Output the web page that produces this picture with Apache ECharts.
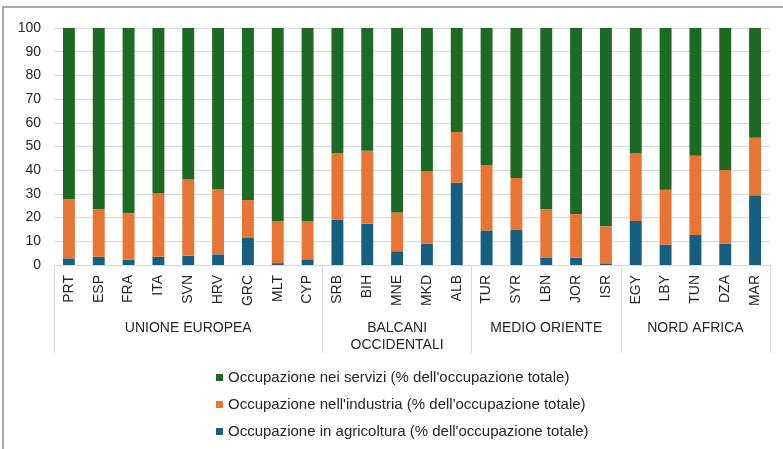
<!DOCTYPE html>
<html>
<head>
<meta charset="utf-8">
<script src="https://cdn.jsdelivr.net/npm/echarts@6/dist/echarts.min.js"></script>
<style>
  html, body { margin: 0; padding: 0; background: #fff; }
  #chart { width: 783px; height: 449px; }
</style>
</head>
<body>
<div id="chart"></div>
<script>
const countries = ['PRT', 'ESP', 'FRA', 'ITA', 'SVN', 'HRV', 'GRC', 'MLT', 'CYP',
  'SRB', 'BIH', 'MNE', 'MKD', 'ALB',
  'TUR', 'SYR', 'LBN', 'JOR', 'ISR',
  'EGY', 'LBY', 'TUN', 'DZA', 'MAR']
const groupNames = ['UNIONE EUROPEA', 'BALCANI\nOCCIDENTALI', 'MEDIO ORIENTE', 'NORD AFRICA']
const groupSizes = [9, 5, 5, 5]

const agricoltura = [2.8, 3.5, 2.3, 3.5, 3.9, 4.5, 11.4, 0.8, 2.4,
  19.1, 17.4, 5.8, 9.0, 34.7,
  14.6, 15.0, 3.2, 3.1, 0.7,
  18.6, 8.6, 12.7, 9.0, 29.4]
const industria = [25.0, 20.0, 19.5, 26.7, 32.2, 27.6, 16.0, 17.8, 16.2,
  28.2, 30.8, 16.4, 30.5, 21.4,
  27.6, 21.7, 20.4, 18.4, 15.6,
  28.7, 23.2, 33.4, 31.1, 24.3]
const servizi = [72.2, 76.5, 78.2, 69.8, 63.9, 67.9, 72.6, 81.4, 81.4,
  52.7, 51.8, 77.8, 60.5, 43.9,
  57.8, 63.3, 76.4, 78.5, 83.7,
  52.7, 68.2, 53.9, 59.9, 46.3]

const yTicks = { min: 0, max: 100, interval: 10 }

const nameServizi = "Occupazione nei servizi (% dell'occupazione totale)"
const nameIndustria = "Occupazione nell'industria (% dell'occupazione totale)"
const nameAgricoltura = "Occupazione in agricoltura (% dell'occupazione totale)"

// group boundaries and centre labels for the second (grouping) axis
const boundaries = [0]
const groupLabels = countries.map(() => '')
let start = 0
groupSizes.forEach((n, i) => {
  groupLabels[start + Math.floor(n / 2)] = groupNames[i]
  start += n
  boundaries.push(start)
})

const font = 'Liberation Sans, Arial, sans-serif'
const textColor = '#262626'
const gridColor = '#d9d9d9'

const chart = echarts.init(document.getElementById('chart'))

const option = {
  animation: false,
  textStyle: { fontFamily: font },
  graphic: [
    {
      type: 'rect',
      shape: { x: 3, y: 7, width: 820, height: 500 },
      style: { fill: 'none', stroke: '#8c8c8c', lineWidth: 1.5 },
      silent: true,
    },
  ],
  grid: {
    left: 54,
    right: 13,
    top: 28,
    bottom: 184,
  },
  legend: {
    orient: 'vertical',
    left: 211,
    top: 365,
    itemWidth: 7,
    itemHeight: 7,
    itemGap: 12,
    icon: 'rect',
    data: [nameServizi, nameIndustria, nameAgricoltura],
    textStyle: { fontSize: 15, color: textColor, fontFamily: font },
  },
  xAxis: [
    {
      type: 'category',
      data: countries,
      position: 'bottom',
      axisLine: { show: true, lineStyle: { color: gridColor, width: 1 } },
      axisTick: {
        show: true,
        length: 88,
        interval: (index) => boundaries.indexOf(index) !== -1,
        lineStyle: { color: gridColor, width: 1 },
      },
      axisLabel: {
        interval: 0,
        rotate: 90,
        margin: 10,
        fontSize: 14,
        color: textColor,
        fontFamily: font,
      },
    },
    {
      type: 'category',
      data: groupLabels,
      position: 'bottom',
      axisLine: { show: false },
      axisTick: { show: false },
      axisLabel: {
        interval: 0,
        margin: 55,
        fontSize: 14,
        lineHeight: 17,
        color: textColor,
        fontFamily: font,
        verticalAlign: 'top',
      },
    },
  ],
  yAxis: {
    type: 'value',
    min: yTicks.min,
    max: yTicks.max,
    interval: yTicks.interval,
    axisLine: { show: false },
    axisTick: { show: false },
    splitLine: { lineStyle: { color: gridColor, width: 1 } },
    axisLabel: { fontSize: 14, color: textColor, margin: 13, fontFamily: font },
  },
  series: [
    {
      name: nameAgricoltura,
      type: 'bar',
      stack: 'tot',
      barWidth: '40%',
      data: agricoltura,
      itemStyle: { color: '#175f80' },
    },
    {
      name: nameIndustria,
      type: 'bar',
      stack: 'tot',
      barWidth: '40%',
      data: industria,
      itemStyle: { color: '#e97534' },
    },
    {
      name: nameServizi,
      type: 'bar',
      stack: 'tot',
      barWidth: '40%',
      data: servizi,
      itemStyle: { color: '#1c6a24' },
    },
  ],
}

chart.setOption(option)
</script>
</body>
</html>
